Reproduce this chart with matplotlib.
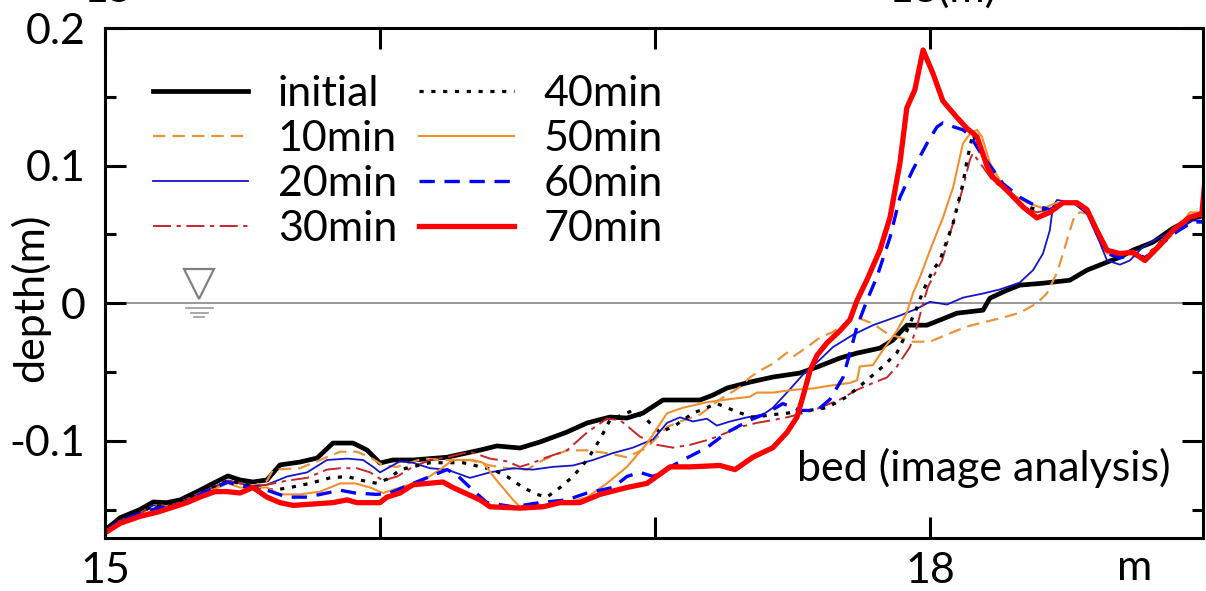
import matplotlib
matplotlib.use("Agg")
import matplotlib.pyplot as plt

plt.rcParams["font.family"] = ["Lato", "DejaVu Sans"]
plt.rcParams["lines.scale_dashes"] = False

# 河床高 (image analysis), x: 距離(m), y: depth(m)
x_init = [15.0, 15.055, 15.127, 15.175, 15.225, 15.273, 15.345, 15.393, 15.447, 15.491,
          15.538, 15.589, 15.636, 15.709, 15.771, 15.829, 15.902, 15.953, 16.0, 16.047,
          16.12, 16.244, 16.364, 16.425, 16.509, 16.582, 16.68, 16.753, 16.836, 16.898,
          16.956, 17.029, 17.091, 17.164, 17.211, 17.262, 17.345, 17.429, 17.527, 17.589,
          17.673, 17.735, 17.818, 17.865, 17.916, 17.989, 18.036, 18.098, 18.193, 18.218,
          18.28, 18.327, 18.411, 18.509, 18.571, 18.644, 18.691, 18.738, 18.811, 18.884,
          18.956, 19.0]
y_init = [-0.165, -0.156, -0.150, -0.1445, -0.145, -0.143, -0.136, -0.131, -0.1256, -0.1285,
          -0.130, -0.1285, -0.1176, -0.1155, -0.1126, -0.1017, -0.1017, -0.1068, -0.1162, -0.114,
          -0.114, -0.112, -0.1068, -0.1038, -0.1053, -0.1009, -0.0937, -0.0871, -0.0828, -0.0835,
          -0.0799, -0.0704, -0.0704, -0.0704, -0.0668, -0.0617, -0.0574, -0.0537, -0.0508, -0.0465,
          -0.0399, -0.0363, -0.0327, -0.0269, -0.016, -0.016, -0.0123, -0.0073, -0.0051, 0.0036,
          0.0094, 0.0131, 0.0145, 0.0167, 0.024, 0.0298, 0.0334, 0.0385, 0.0443, 0.0545,
          0.0617, 0.0639]

x_10 = [15.0, 15.055, 15.127, 15.175, 15.225, 15.273, 15.345, 15.393, 15.447, 15.491,
        15.538, 15.589, 15.611, 15.709, 15.782, 15.855, 15.916, 15.964, 16.011, 16.062,
        16.156, 16.244, 16.327, 16.4, 16.462, 16.535, 16.593, 16.68, 16.753, 16.825,
        16.898, 16.971, 17.044, 17.091, 17.164, 17.236, 17.309, 17.345, 17.382, 17.429,
        17.48, 17.502, 17.553, 17.6, 17.647, 17.684, 17.72, 17.756, 17.793, 17.844,
        17.891, 17.938, 18.0, 18.036, 18.084, 18.135, 18.193, 18.255, 18.327, 18.389,
        18.425, 18.462, 18.484, 18.509, 18.527, 18.545, 18.571, 18.618, 18.644, 18.716,
        18.789, 18.847, 18.909, 18.956, 19.0]
y_10 = [-0.166, -0.158, -0.153, -0.147, -0.148, -0.145, -0.138, -0.134, -0.129, -0.131,
        -0.133, -0.129, -0.121, -0.120, -0.114, -0.108, -0.108, -0.112, -0.118, -0.119,
        -0.113, -0.114, -0.114, -0.118, -0.120, -0.121, -0.114, -0.107, -0.107, -0.109,
        -0.112, -0.105, -0.090, -0.086, -0.081, -0.070, -0.061, -0.054, -0.049, -0.044,
        -0.036, -0.039, -0.032, -0.025, -0.021, -0.016, -0.010, -0.012, -0.015, -0.022,
        -0.025, -0.028, -0.028, -0.025, -0.021, -0.017, -0.014, -0.011, -0.007, 0.0,
        0.007, 0.022, 0.036, 0.053, 0.064, 0.066, 0.065, 0.046, 0.035, 0.036,
        0.033, 0.044, 0.054, 0.062, 0.064]

x_20 = [15.0, 15.055, 15.127, 15.175, 15.225, 15.273, 15.345, 15.393, 15.447, 15.491,
        15.538, 15.589, 15.662, 15.735, 15.807, 15.88, 15.938, 15.975, 16.0, 16.036,
        16.073, 16.12, 16.182, 16.244, 16.327, 16.4, 16.484, 16.556, 16.629, 16.702,
        16.775, 16.847, 16.92, 16.993, 17.044, 17.091, 17.138, 17.189, 17.225, 17.273,
        17.335, 17.393, 17.429, 17.48, 17.538, 17.6, 17.647, 17.72, 17.793, 17.891,
        17.953, 18.0, 18.062, 18.12, 18.193, 18.255, 18.327, 18.375, 18.411, 18.436,
        18.447, 18.462, 18.52, 18.571, 18.618, 18.644, 18.691, 18.727, 18.775, 18.836,
        18.898, 18.956, 19.0]
y_20 = [-0.166, -0.158, -0.153, -0.147, -0.148, -0.145, -0.138, -0.134, -0.129, -0.131,
        -0.133, -0.132, -0.126, -0.123, -0.114, -0.113, -0.114, -0.119, -0.123, -0.119,
        -0.115, -0.116, -0.120, -0.121, -0.127, -0.123, -0.120, -0.121, -0.119, -0.118,
        -0.114, -0.109, -0.105, -0.099, -0.087, -0.083, -0.086, -0.084, -0.089, -0.086,
        -0.083, -0.081, -0.076, -0.065, -0.052, -0.041, -0.032, -0.023, -0.016, -0.009,
        -0.004, 0.001, -0.001, 0.004, 0.007, 0.010, 0.015, 0.024, 0.036, 0.053,
        0.070, 0.075, 0.073, 0.065, 0.044, 0.031, 0.028, 0.031, 0.041, 0.048,
        0.053, 0.060, 0.060]

x_30 = [15.0, 15.055, 15.127, 15.175, 15.225, 15.273, 15.345, 15.393, 15.447, 15.491,
        15.538, 15.589, 15.662, 15.735, 15.807, 15.855, 15.916, 15.964, 16.011, 16.062,
        16.12, 16.182, 16.244, 16.327, 16.4, 16.462, 16.509, 16.556, 16.607, 16.68,
        16.753, 16.825, 16.873, 16.945, 17.007, 17.065, 17.127, 17.2, 17.262, 17.309,
        17.371, 17.429, 17.48, 17.538, 17.6, 17.673, 17.735, 17.793, 17.844, 17.88,
        17.927, 17.953, 17.971, 17.993, 18.025, 18.044, 18.084, 18.12, 18.145, 18.156,
        18.196, 18.229, 18.28, 18.338, 18.389, 18.436, 18.484, 18.535, 18.571, 18.607,
        18.644, 18.691, 18.738, 18.782, 18.836, 18.884, 18.945, 19.0]
y_30 = [-0.166, -0.158, -0.153, -0.147, -0.148, -0.145, -0.138, -0.134, -0.129, -0.131,
        -0.133, -0.132, -0.129, -0.127, -0.121, -0.120, -0.120, -0.123, -0.129, -0.126,
        -0.119, -0.114, -0.112, -0.108, -0.113, -0.115, -0.119, -0.116, -0.112, -0.107,
        -0.094, -0.084, -0.085, -0.097, -0.103, -0.105, -0.103, -0.099, -0.094, -0.090,
        -0.087, -0.085, -0.083, -0.080, -0.076, -0.070, -0.063, -0.058, -0.054, -0.046,
        -0.032, -0.017, -0.003, 0.012, 0.024, 0.031, 0.058, 0.084, 0.104, 0.109,
        0.098, 0.089, 0.081, 0.070, 0.066, 0.068, 0.073, 0.073, 0.066, 0.052,
        0.037, 0.036, 0.037, 0.033, 0.044, 0.053, 0.062, 0.064]

x_40 = [15.0, 15.055, 15.127, 15.175, 15.225, 15.273, 15.345, 15.393, 15.447, 15.491,
        15.538, 15.611, 15.673, 15.745, 15.818, 15.88, 15.938, 15.989, 16.036, 16.073,
        16.182, 16.302, 16.411, 16.462, 16.52, 16.571, 16.607, 16.655, 16.702, 16.753,
        16.8, 16.836, 16.92, 16.971, 17.018, 17.073, 17.138, 17.225, 17.298, 17.356,
        17.429, 17.527, 17.625, 17.698, 17.771, 17.829, 17.88, 17.902, 17.927, 17.953,
        17.975, 18.011, 18.036, 18.084, 18.12, 18.135, 18.156, 18.182, 18.229, 18.28,
        18.338, 18.389, 18.436, 18.484, 18.535, 18.571, 18.607, 18.644, 18.691, 18.738,
        18.782, 18.836, 18.884, 18.945, 19.0]
y_40 = [-0.166, -0.158, -0.153, -0.147, -0.148, -0.145, -0.138, -0.134, -0.129, -0.131,
        -0.133, -0.136, -0.134, -0.131, -0.127, -0.126, -0.129, -0.131, -0.127, -0.121,
        -0.116, -0.116, -0.121, -0.126, -0.134, -0.139, -0.141, -0.134, -0.126, -0.114,
        -0.099, -0.085, -0.078, -0.085, -0.094, -0.089, -0.080, -0.073, -0.079, -0.083,
        -0.081, -0.079, -0.076, -0.068, -0.056, -0.046, -0.036, -0.027, -0.015, -0.003,
        0.009, 0.024, 0.031, 0.058, 0.087, 0.104, 0.123, 0.111, 0.092, 0.082,
        0.071, 0.068, 0.069, 0.073, 0.073, 0.068, 0.053, 0.038, 0.036, 0.037,
        0.033, 0.044, 0.053, 0.062, 0.064]

x_50 = [15.0, 15.055, 15.127, 15.189, 15.236, 15.298, 15.345, 15.4, 15.447, 15.491,
        15.538, 15.589, 15.636, 15.709, 15.782, 15.855, 15.909, 15.964, 16.011, 16.073,
        16.156, 16.218, 16.265, 16.338, 16.375, 16.425, 16.484, 16.509, 16.556, 16.607,
        16.68, 16.753, 16.825, 16.898, 16.971, 17.044, 17.102, 17.189, 17.262, 17.345,
        17.371, 17.429, 17.502, 17.575, 17.636, 17.709, 17.735, 17.745, 17.793, 17.829,
        17.855, 17.88, 17.916, 17.938, 17.964, 18.011, 18.047, 18.084, 18.12, 18.145,
        18.171, 18.189, 18.218, 18.255, 18.291, 18.353, 18.411, 18.462, 18.52, 18.571,
        18.618, 18.644, 18.691, 18.753, 18.782, 18.836, 18.898, 18.945, 18.993, 19.0]
y_50 = [-0.167, -0.159, -0.154, -0.150, -0.148, -0.145, -0.139, -0.135, -0.131, -0.134,
        -0.134, -0.134, -0.139, -0.139, -0.137, -0.131, -0.131, -0.134, -0.138, -0.134,
        -0.129, -0.121, -0.114, -0.114, -0.116, -0.129, -0.143, -0.148, -0.145, -0.148,
        -0.145, -0.141, -0.131, -0.119, -0.102, -0.080, -0.076, -0.072, -0.070, -0.068,
        -0.065, -0.065, -0.063, -0.062, -0.060, -0.058, -0.056, -0.046, -0.045, -0.034,
        -0.027, -0.020, -0.007, 0.007, 0.019, 0.044, 0.062, 0.084, 0.116, 0.123,
        0.126, 0.121, 0.102, 0.089, 0.080, 0.073, 0.069, 0.073, 0.073, 0.068,
        0.048, 0.036, 0.037, 0.035, 0.033, 0.044, 0.053, 0.066, 0.066, 0.086]

x_60 = [15.0, 15.055, 15.127, 15.189, 15.236, 15.298, 15.345, 15.4, 15.447, 15.491,
        15.538, 15.589, 15.662, 15.735, 15.855, 15.909, 15.989, 16.036, 16.12, 16.182,
        16.244, 16.28, 16.338, 16.389, 16.484, 16.582, 16.68, 16.753, 16.847, 16.898,
        16.945, 16.993, 17.047, 17.102, 17.189, 17.262, 17.345, 17.407, 17.465, 17.527,
        17.589, 17.636, 17.684, 17.709, 17.735, 17.771, 17.807, 17.855, 17.891, 17.938,
        17.989, 18.025, 18.047, 18.073, 18.12, 18.145, 18.182, 18.218, 18.265, 18.327,
        18.382, 18.436, 18.484, 18.535, 18.571, 18.607, 18.644, 18.691, 18.738, 18.782,
        18.836, 18.898, 18.956, 19.0]
y_60 = [-0.166, -0.158, -0.153, -0.149, -0.148, -0.145, -0.139, -0.134, -0.130, -0.133,
        -0.134, -0.136, -0.141, -0.141, -0.136, -0.138, -0.139, -0.138, -0.131, -0.126,
        -0.121, -0.125, -0.136, -0.145, -0.148, -0.145, -0.143, -0.138, -0.134, -0.126,
        -0.123, -0.126, -0.120, -0.114, -0.105, -0.094, -0.085, -0.080, -0.073, -0.078,
        -0.078, -0.070, -0.054, -0.036, -0.017, 0.002, 0.019, 0.048, 0.077, 0.097,
        0.116, 0.128, 0.131, 0.129, 0.126, 0.122, 0.110, 0.100, 0.087, 0.077,
        0.071, 0.068, 0.073, 0.073, 0.068, 0.052, 0.036, 0.033, 0.035, 0.033,
        0.042, 0.052, 0.059, 0.059]

x_70 = [15.0, 15.055, 15.127, 15.189, 15.236, 15.298, 15.345, 15.4, 15.444, 15.491,
        15.538, 15.589, 15.636, 15.684, 15.756, 15.829, 15.88, 15.916, 16.0, 16.025,
        16.073, 16.12, 16.229, 16.265, 16.364, 16.4, 16.509, 16.593, 16.655, 16.727,
        16.8, 16.898, 16.971, 17.055, 17.127, 17.236, 17.291, 17.356, 17.429, 17.48,
        17.516, 17.538, 17.564, 17.589, 17.625, 17.673, 17.709, 17.735, 17.771, 17.818,
        17.855, 17.891, 17.916, 17.945, 17.975, 18.011, 18.047, 18.098, 18.135, 18.171,
        18.207, 18.229, 18.28, 18.338, 18.389, 18.436, 18.484, 18.535, 18.571, 18.607,
        18.644, 18.691, 18.738, 18.782, 18.836, 18.884, 18.945, 18.989, 19.0]
y_70 = [-0.167, -0.160, -0.155, -0.152, -0.149, -0.145, -0.141, -0.137, -0.137, -0.138,
        -0.134, -0.141, -0.145, -0.147, -0.146, -0.145, -0.143, -0.145, -0.145, -0.141,
        -0.138, -0.132, -0.130, -0.134, -0.143, -0.148, -0.149, -0.148, -0.145, -0.145,
        -0.139, -0.134, -0.131, -0.119, -0.119, -0.118, -0.121, -0.112, -0.105, -0.094,
        -0.083, -0.068, -0.049, -0.038, -0.029, -0.020, -0.012, 0.002, 0.017, 0.0385,
        0.0625, 0.102, 0.142, 0.155, 0.184, 0.167, 0.147, 0.135, 0.127, 0.121,
        0.100, 0.0915, 0.082, 0.070, 0.062, 0.066, 0.073, 0.073, 0.068, 0.053,
        0.0385, 0.036, 0.037, 0.031, 0.042, 0.053, 0.0625, 0.065, 0.089]

labels = ["initial", "10min", "20min", "30min", "40min", "50min", "60min", "70min"]

# 水位記号 (▽) の位置
wl_x = 15.342
wl_y = 0.0138
wl_bars_y = [-0.0036, -0.0073, -0.0102]
wl_bars_half = [0.049, 0.031, 0.018]

fig = plt.figure(figsize=(12.06, 5.91), dpi=100)
ax = fig.add_axes([0.0871, 0.0897, 0.9104, 0.8629])

ax.axhline(0, color="#999999", lw=1.4, zorder=0)

ax.plot(x_init, y_init, color="black", lw=3.4, label=labels[0])
ax.plot(x_10, y_10, color="#E8943A", lw=1.6, dashes=(9, 5), label=labels[1])
ax.plot(x_20, y_20, color="#1515C8", lw=1.3, label=labels[2])
ax.plot(x_30, y_30, color="#C4262B", lw=1.4, dashes=(13, 4, 3, 4), label=labels[3])
ax.plot(x_40, y_40, color="black", lw=2.3, dashes=(3, 5.5), label=labels[4])
ax.plot(x_50, y_50, color="#F0902C", lw=1.5, label=labels[5])
ax.plot(x_60, y_60, color="#0000FF", lw=2.4, dashes=(11, 7), label=labels[6])
ax.plot(x_70, y_70, color="#FF0000", lw=3.8, label=labels[7])

# 水位マーク
ax.plot([wl_x], [wl_y], marker="v", ms=22, mfc="white", mec="#808080", mew=1.6, ls="none")
for by, bh in zip(wl_bars_y, wl_bars_half):
    ax.plot([wl_x - bh, wl_x + bh], [by, by], color="#999999", lw=1.2)

ax.set_xlim(15, 18.993)
ax.set_ylim(-0.1707, 0.2)
ax.set_xticks([15, 16, 17, 18])
ax.set_xticklabels(["15", "", "", "18"])
ax.set_yticks([-0.1, 0, 0.1, 0.2])
ax.set_yticklabels(["-0.1", "0", "0.1", "0.2"])
ax.set_yticks([-0.15, -0.05, 0.05, 0.15], minor=True)
ax.tick_params(which="major", direction="in", length=15, width=2.2,
               top=True, right=True, labelsize=31)
ax.tick_params(which="minor", direction="in", length=8, width=2.2, right=True)
ax.tick_params(axis="y", pad=14)
ax.tick_params(axis="x", pad=10)
for s in ax.spines.values():
    s.set_linewidth(2.2)

ax.legend(ncol=2, loc="upper left", bbox_to_anchor=(0.0437, 0.908), frameon=False,
          fontsize=31, handlelength=2.2, handletextpad=0.7, columnspacing=0.5,
          labelspacing=0.16, borderpad=0, borderaxespad=0)

ax.text(0.970, 0.137, "bed (image analysis)", transform=ax.transAxes,
        ha="right", va="center", fontsize=31)

fig.text(0.025, 0.496, "depth(m)", rotation=90, ha="center", va="center", fontsize=31)
fig.text(1135 / 1206, 1 - 568 / 591, "m", ha="center", va="center", fontsize=31)

# 上のパネルの軸ラベル (切れている)
fig.text(108 / 1206, 1 - 2 / 591, "15", ha="center", va="baseline", fontsize=31)
fig.text(943 / 1206, 1 - 2 / 591, "18(m)", ha="center", va="baseline", fontsize=31)

fig.savefig("out.png", dpi=100)
